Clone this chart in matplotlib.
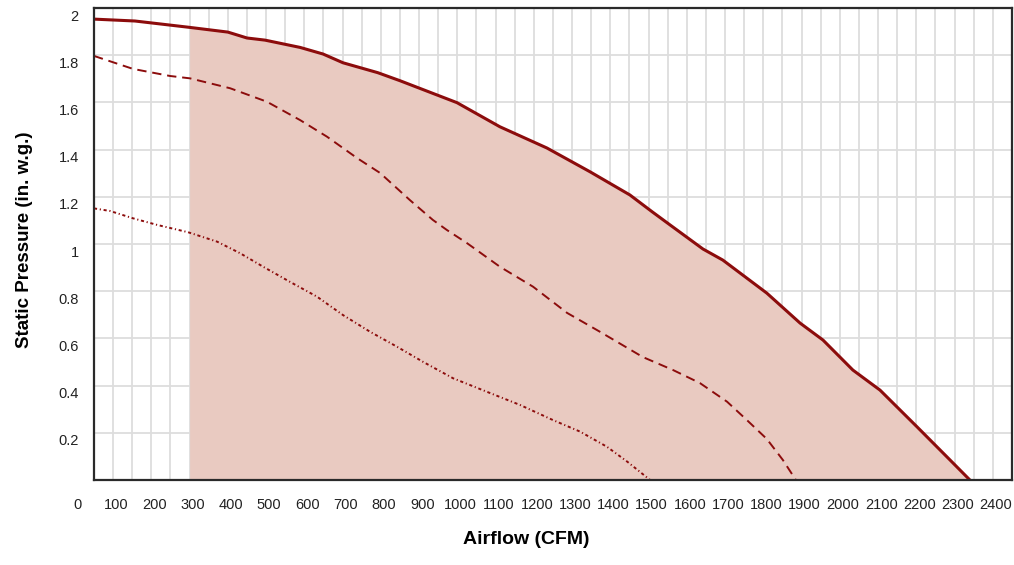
import numpy as np
import matplotlib
matplotlib.use("Agg")
import matplotlib.pyplot as plt
from matplotlib.ticker import MultipleLocator
from matplotlib.transforms import ScaledTranslation

# --- data (CFM, in. w.g.) ---
max_cfm = [0, 107, 250, 350, 400, 447, 539, 599, 651, 742, 800, 949, 1061,
           1184, 1297, 1401, 1459, 1506, 1592, 1644, 1759, 1846, 1906, 1984,
           2055, 2152, 2238, 2290]
max_sp = [1.953, 1.945, 1.918, 1.898, 1.873, 1.864, 1.833, 1.805, 1.768,
          1.726, 1.692, 1.599, 1.497, 1.407, 1.306, 1.208, 1.137, 1.081,
          0.979, 0.932, 0.792, 0.665, 0.593, 0.466, 0.381, 0.225, 0.085, 0.0]

mid_cfm = [0, 102, 199, 251, 356, 452, 539, 609, 688, 748, 826, 886, 923,
           975, 1061, 1148, 1237, 1323, 1435, 1514, 1584, 1655, 1707, 1759,
           1801, 1835]
mid_sp = [1.797, 1.742, 1.712, 1.702, 1.660, 1.603, 1.525, 1.455, 1.364,
          1.301, 1.186, 1.102, 1.059, 1.004, 0.904, 0.819, 0.708, 0.628,
          0.521, 0.466, 0.411, 0.332, 0.254, 0.174, 0.085, 0.0]

low_cfm = [0, 42, 102, 165, 246, 322, 382, 442, 512, 583, 651, 722, 792,
           860, 939, 1027, 1114, 1200, 1271, 1341, 1394, 1454]
low_sp = [1.151, 1.140, 1.109, 1.081, 1.050, 1.010, 0.961, 0.904, 0.840,
          0.777, 0.699, 0.628, 0.565, 0.501, 0.431, 0.374, 0.318, 0.254,
          0.205, 0.141, 0.078, 0.0]

min_cfm = 250  # left edge of the operating range

x_ticks = list(range(0, 2500, 100))
y_ticks = [0.2, 0.4, 0.6, 0.8, 1.0, 1.2, 1.4, 1.6, 1.8, 2.0]
y_labels = ["0.2", "0.4", "0.6", "0.8", "1", "1.2", "1.4", "1.6", "1.8", "2"]

LINE = "#8c0c0c"
FILL = "#e9cac1"
GRID = "#dddddd"
FONT = ["Liberation Sans", "DejaVu Sans"]

plt.rcParams["font.family"] = FONT

fig = plt.figure(figsize=(10.14, 5.65), dpi=100)
fig.patch.set_facecolor("white")
ax = fig.add_axes([0.0927, 0.1504, 0.9053, 0.8354])

x_max = np.array(max_cfm)
y_max = np.array(max_sp)
sel = x_max >= min_cfm
ax.fill_between(x_max[sel], y_max[sel], 0, color=FILL, linewidth=0, zorder=2)

ax.plot(max_cfm, max_sp, color=LINE, linewidth=2.2, solid_joinstyle="round", zorder=4)
ax.plot(mid_cfm, mid_sp, color=LINE, linewidth=1.4, linestyle=(0, (4.8, 3)), zorder=4)
ax.plot(low_cfm, low_sp, color=LINE, linewidth=1.4,
        linestyle=(0, (1.6, 1.4, 0.6, 1.4)), zorder=4)

ax.set_xlim(0, 2400)
ax.set_ylim(0, 2.0)

ax.xaxis.set_minor_locator(MultipleLocator(50))
ax.set_xticks(x_ticks)
ax.set_xticklabels([str(v) for v in x_ticks])
ax.set_yticks(y_ticks)
ax.set_yticklabels(y_labels)

ax.grid(True, which="both", color=GRID, linewidth=1.3, zorder=0)
ax.set_axisbelow(True)
ax.tick_params(which="both", length=0)
ax.tick_params(axis="x", labelsize=10.5, pad=13, colors="#222222")
ax.tick_params(axis="y", labelsize=10.5, pad=11, colors="#222222")

# tick labels sit a bit off their grid lines in the original
for lab in ax.get_xticklabels():
    lab.set_transform(lab.get_transform() + ScaledTranslation(-16 / 100, 0, fig.dpi_scale_trans))
for lab in ax.get_yticklabels():
    lab.set_transform(lab.get_transform() + ScaledTranslation(0, -7 / 100, fig.dpi_scale_trans))

for side in ["left", "bottom", "top", "right"]:
    ax.spines[side].set_color("#2a2a2a")
    ax.spines[side].set_linewidth(1.6)
    ax.spines[side].set_zorder(5)

fig.text(0.519, 0.046, "Airflow (CFM)", ha="center", va="center",
         fontsize=14, fontweight="bold", family=FONT)
fig.text(0.024, 0.575, "Static Pressure (in. w.g.)", ha="center", va="center",
         rotation=90, fontsize=13.5, fontweight="bold", family=FONT)

fig.savefig("out.png", dpi=100, facecolor="white")
